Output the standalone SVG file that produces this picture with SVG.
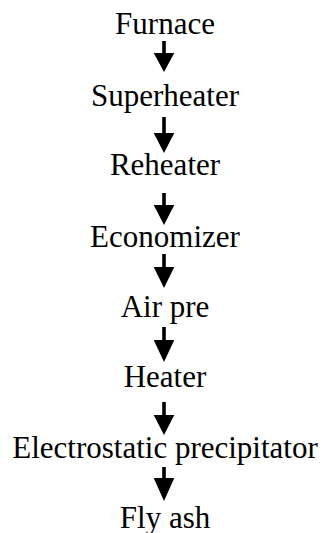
<svg xmlns="http://www.w3.org/2000/svg" width="324" height="533" viewBox="0 0 324 533">
<style>
text{font-family:"Liberation Serif","Times New Roman",serif;font-size:31px;fill:#000;text-anchor:middle}
.sh{fill:#000}
</style>
<rect width="324" height="533" fill="#fff"/>
<g id="connectors">
<path class="sh" d="M162.2,41h3.6v12h8.5l-10.3,19l-10.3,-19h8.5z"/>
<path class="sh" d="M162.2,117h3.6v16h8.5l-10.3,20l-10.3,-20h8.5z"/>
<path class="sh" d="M162.2,193h3.6v12h8.5l-10.3,20l-10.3,-20h8.5z"/>
<path class="sh" d="M162.2,254h3.6v13h8.5l-10.3,21l-10.3,-21h8.5z"/>
<path class="sh" d="M162.2,327h3.6v13h8.5l-10.3,22l-10.3,-22h8.5z"/>
<path class="sh" d="M162.2,402h3.6v13h8.5l-10.3,20l-10.3,-20h8.5z"/>
<path class="sh" d="M162.2,467h3.6v11h8.5l-10.3,23l-10.3,-23h8.5z"/>
</g>
<g id="n1"><text x="165" y="34">Furnace</text></g>
<g id="n2"><text x="165" y="106">Superheater</text></g>
<g id="n3"><text x="165" y="175">Reheater</text></g>
<g id="n4"><text x="165" y="247">Economizer</text></g>
<g id="n5"><text x="165" y="317">Air pre</text></g>
<g id="n6"><text x="165" y="387">Heater</text></g>
<g id="n7"><text x="165" y="458">Electrostatic precipitator</text></g>
<g id="n8"><text x="165" y="528">Fly ash</text></g>
</svg>
